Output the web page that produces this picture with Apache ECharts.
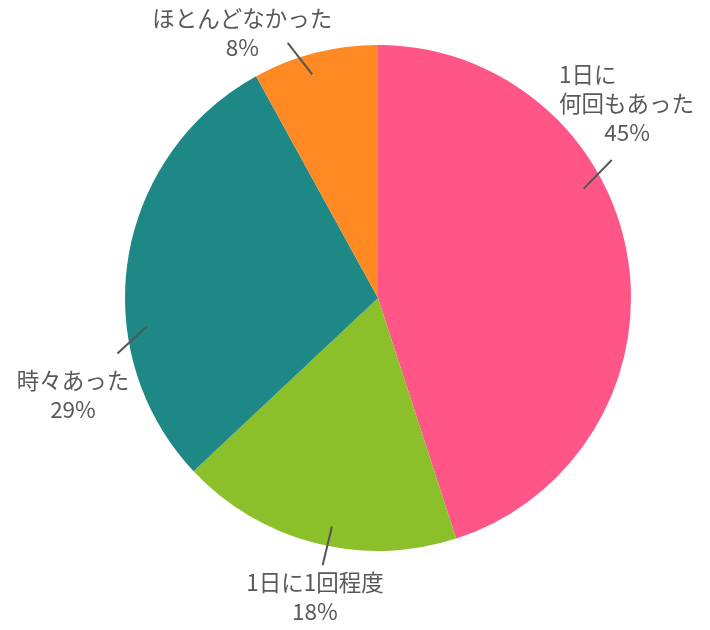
<!DOCTYPE html>
<html>
<head>
<meta charset="utf-8">
<style>
  html, body { margin: 0; padding: 0; background: #fff; }
  #main { width: 710px; height: 630px; }
</style>
</head>
<body>
<div id="main"></div>
<script src="https://cdn.jsdelivr.net/npm/echarts@6/dist/echarts.min.js"></script>
<script>
// answers, clockwise from 12 o'clock
var names = ['1日に\n何回もあった', '1日に1回程度', '時々あった', 'ほとんどなかった'];
var values = [45, 18, 29, 8];

var colors = ['#ff5587', '#8bc02a', '#1e8886', '#ff8922'];

var W = 710, H = 630;
var CX = 378, CY = 298, R = 253;
var FONT = '"Noto Sans CJK JP", "Noto Sans", sans-serif';
var FONT_SIZE = 22.5;
var TEXT = '#595959';

// how each label sits off its slice: degrees turned from the slice middle,
// distance past the rim, where the pointer starts (degrees from middle),
// and how much the pointer keeps to the radius instead of aiming at the text
var labelSpots = [
  { turn: -29, out: 63, lineTurn: -19, radial: 0.5 },
  { turn: -2.5, out: 53, lineTurn: -3, radial: 0 },
  { turn: -26.6, out: 67, lineTurn: -16, radial: 0 },
  { turn: -12.7, out: 45, lineTurn: -2, radial: 0.5 }
];

var total = values.reduce(function (a, b) { return a + b; }, 0);

function midDeg(i) {
  var before = 0;
  for (var k = 0; k < i; k++) before += values[k];
  return (before + values[i] / 2) / total * 360;
}
function polar(deg, r) {
  var a = deg * Math.PI / 180;
  return [CX + Math.sin(a) * r, CY - Math.cos(a) * r];
}
function unit(x, y) {
  var l = Math.sqrt(x * x + y * y);
  return [x / l, y / l];
}

// widest line of a multi-line name, so its lines can be left aligned
var ctx = document.createElement('canvas').getContext('2d');
ctx.font = FONT_SIZE + 'px ' + FONT;
function widest(s) {
  return Math.max.apply(null, s.split('\n').map(function (l) { return ctx.measureText(l).width; }));
}

var sliceData = names.map(function (n, i) {
  return { name: n, value: values[i], itemStyle: { color: colors[i] } };
});
var labelData = names.map(function (n, i) {
  var item = { name: n, value: values[i] };
  if (n.indexOf('\n') >= 0) {
    item.label = { rich: { n: { width: Math.ceil(widest(n)), align: 'left' } } };
  }
  return item;
});

var chart = echarts.init(document.getElementById('main'));

chart.setOption({
  animation: false,
  backgroundColor: '#ffffff',
  series: [{
    type: 'pie',
    z: 1,
    center: [CX, CY],
    radius: R,
    startAngle: 90,
    clockwise: true,
    silent: true,
    label: { show: false },
    labelLine: { show: false },
    itemStyle: { borderWidth: 0 },
    data: sliceData
  }, {
    // same slices, see-through, only to carry labels and pointers on top
    type: 'pie',
    z: 3,
    center: [CX, CY],
    radius: R,
    startAngle: 90,
    clockwise: true,
    silent: true,
    avoidLabelOverlap: false,
    itemStyle: { color: 'rgba(0,0,0,0)', borderWidth: 0 },
    data: labelData,
    label: {
      show: true,
      position: 'outside',
      color: TEXT,
      fontFamily: FONT,
      fontSize: FONT_SIZE,
      lineHeight: 29,
      formatter: function (p) {
        var lines = p.name.split('\n').map(function (l) { return '{n|' + l + '}'; });
        lines.push('{v|' + p.value + '%}');
        return lines.join('\n');
      },
      rich: {
        n: { color: TEXT, fontFamily: FONT, fontSize: FONT_SIZE, lineHeight: 29 },
        v: { color: TEXT, fontFamily: FONT, fontSize: FONT_SIZE, lineHeight: 29, align: 'center' }
      }
    },
    labelLine: {
      show: true,
      length: 20,
      length2: 0,
      lineStyle: { color: '#555555', width: 2 }
    },
    labelLayout: function (p) {
      var i = p.dataIndex, s = labelSpots[i], mid = midDeg(i);
      var hw = p.labelRect.width / 2, hh = p.labelRect.height / 2;
      var c = polar(mid + s.turn, R + s.out);
      c[0] = Math.max(hw + 12, Math.min(W - hw - 12, c[0]));
      c[1] = Math.max(hh + 2, Math.min(H - hh - 2, c[1]));
      var p0 = polar(mid + s.lineTurn, R - 20);
      var toText = unit(c[0] - p0[0], c[1] - p0[1]);
      var out = unit(p0[0] - CX, p0[1] - CY);
      var d = unit(out[0] * s.radial + toText[0] * (1 - s.radial),
                   out[1] * s.radial + toText[1] * (1 - s.radial));
      var p1 = [p0[0] + d[0] * 40, p0[1] + d[1] * 40];
      return {
        x: c[0],
        y: c[1],
        align: 'center',
        verticalAlign: 'middle',
        labelLinePoints: [p0, p1, p1]
      };
    }
  }]
});
</script>
</body>
</html>
